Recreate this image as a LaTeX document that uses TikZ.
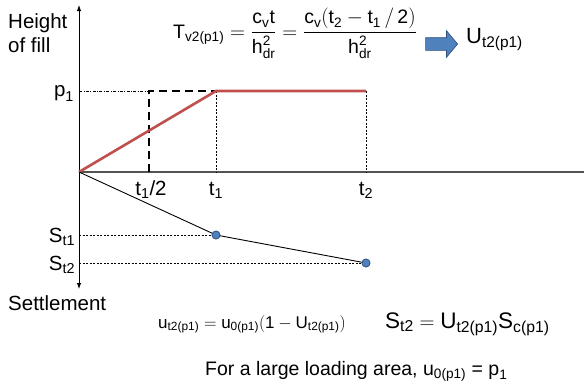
\documentclass[tikz,border=0pt]{standalone}
\usepackage{amsmath}
\usepackage{fontspec}
\setmainfont{Liberation Sans}
\usetikzlibrary{arrows.meta,positioning,shapes.arrows}

\definecolor{loadred}{HTML}{C0504D}
\definecolor{dotblue}{HTML}{4F81BD}
\definecolor{dotedge}{HTML}{2F4F7F}

% text-mode letters inside math
\newcommand\tx[1]{\text{#1}}
\newcommand\sbx[2]{\tx{#1}_{\tx{#2}}}

\begin{document}
\begin{tikzpicture}[x=1pt,y=-1pt,
  lbl/.style={inner sep=0pt,font=\fontsize{20.5}{24}\selectfont},
  axisline/.style={{Latex[length=6pt,width=4.5pt]}-{Latex[length=6pt,width=4.5pt]},line width=0.9pt},
  load/.style={draw=loadred,line width=2.6pt},
  avgload/.style={line width=2.6pt,dash pattern=on 8pt off 5pt},
  guide/.style={line width=0.7pt,dash pattern=on 2pt off 1.5pt},
  sdot/.style={circle,fill=dotblue,draw=dotedge,line width=0.6pt,minimum size=8pt,inner sep=0pt}]
\useasboundingbox[fill=white] (0,0) rectangle (584,384);

% axes
\coordinate (o) at (79,172);
\coordinate (top) at (79,5);
\coordinate (bot) at (79,289);
\coordinate (xend) at (584,172);
\draw[gray!65!black,line width=1.3pt] (o) -- (xend);
\draw[axisline] (bot) -- (top);

% load history
\coordinate (p) at (79,91);
\coordinate (h) at (149,91);
\coordinate (hb) at (149,172);
\coordinate (a) at (216,91);
\coordinate (ab) at (216,172);
\coordinate (b) at (366,91);
\coordinate (bb) at (366,172);
\draw[line width=0.6pt,dash pattern=on 3pt off 1.5pt on 0.8pt off 1.5pt] (p) -- (h);
\draw[avgload] (hb) -- (h) -- (a);
\draw[guide] (a) -- (ab);
\draw[guide] (b) -- (bb);
\draw[load] (o) -- (a) -- (b);

% settlement
\node[sdot] (d1) at (216,235) {};
\node[sdot] (d2) at (366,263) {};
\coordinate (s1) at (79,235);
\coordinate (s2) at (79,263);
\draw[guide] (s1) -- (d1.center);
\draw[guide] (s2) -- (d2.center);
\draw[line width=0.9pt] (o) -- (d1.center) -- (d2.center);
\node[sdot] at (d1) {};
\node[sdot] at (d2) {};

% labels
\node[lbl,anchor=north west,align=left] (hgt) at (8,13) {Height\\of fill};
\node[lbl] (p1) at (64,93) {$\sbx{p}{1}$};
\node[lbl] (th) at (151,190) {$\sbx{t}{1}$/2};
\node[lbl] (t1) at (216,190) {$\sbx{t}{1}$};
\node[lbl] (t2) at (366,190) {$\sbx{t}{2}$};
\node[lbl] (st1) at (62,237) {$\sbx{S}{t1}$};
\node[lbl] (st2) at (62,265) {$\sbx{S}{t2}$};
\node[lbl,anchor=base west] (sett) at (8,310) {Settlement};

% formulas
\node[lbl,anchor=base west,font=\fontsize{19.5}{23}\selectfont] (tv) at (173,38)
  {$\sbx{T}{v2(p1)}=\dfrac{\sbx{c}{v}\tx{t}}{\tx{h}^{\tx{2}}_{\tx{dr}}}
   =\dfrac{\sbx{c}{v}(\sbx{t}{2}-\sbx{t}{1}\,/\,\tx{2})}{\tx{h}^{\tx{2}}_{\tx{dr}}}$};
\node[single arrow,fill=dotblue,draw=dotedge,line width=0.6pt,minimum height=32pt,
  single arrow head extend=7pt,single arrow tip angle=100,inner sep=0pt] (impl) at (439,44)
  {\rule{0pt}{12pt}};
\node[lbl,anchor=base west,font=\fontsize{22}{26}\selectfont] (ut) at (466,43) {$\sbx{U}{t2(p1)}$};
\node[lbl,anchor=base west,font=\fontsize{17}{20}\selectfont] (uf) at (158,328)
  {$\sbx{u}{t2(p1)}=\sbx{u}{0(p1)}(\tx{1}-\sbx{U}{t2(p1)})$};
\node[lbl,anchor=base west,font=\fontsize{22.5}{26}\selectfont] (sf) at (385,328)
  {$\sbx{S}{t2}=\sbx{U}{t2(p1)}\sbx{S}{c(p1)}$};
\node[lbl,anchor=base west,font=\fontsize{19.5}{23}\selectfont] (note) at (205,375)
  {For a large loading area, $\sbx{u}{0(p1)}$ = $\sbx{p}{1}$};
\end{tikzpicture}
\end{document}
